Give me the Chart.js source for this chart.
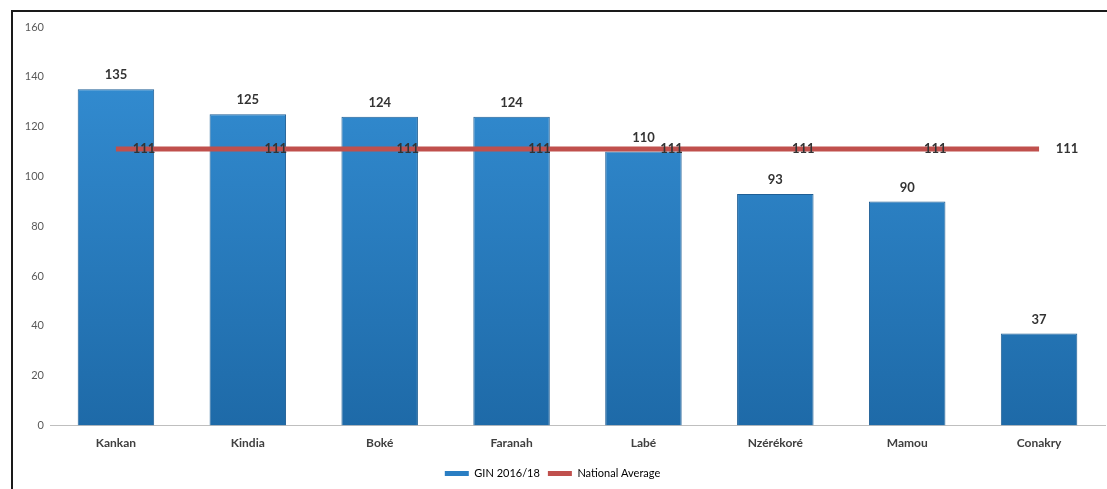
<!DOCTYPE html>
<html>
<head>
<meta charset="utf-8">
<script src="https://cdn.jsdelivr.net/npm/chart.js@4/dist/chart.umd.min.js"></script>
<style>
    body { margin: 0; background: #fff; }
    #frame {
        position: absolute;
        left: 11px;
        top: 10px;
        width: 1110px;
        height: 490px;
        border: 2px solid #1a1a1a;
        box-sizing: border-box;
    }
    #wrap { position: absolute; left: 0; top: 0; width: 1107px; height: 489px; }
</style>
</head>
<body>
<div id="frame"></div>
<div id="wrap"><canvas id="myChart" width="1107" height="489"></canvas></div>
<script>
// Chart data
const regions = ["Kankan", "Kindia", "Boké", "Faranah", "Labé", "Nzérékoré", "Mamou", "Conakry"];
const ginValues = [135, 125, 124, 124, 110, 93, 90, 37];
const nationalAverage = [111, 111, 111, 111, 111, 111, 111, 111];
const yTicks = [0, 20, 40, 60, 80, 100, 120, 140, 160];

const barBlue = "#2a7ec3";
const lineRed = "#c0504d";
const labelFont = "bold 13px Lato, 'Liberation Sans', sans-serif";

// Draw value labels over bars and next to line points
const valueLabels = {
    id: "valueLabels",
    afterDatasetsDraw(chart) {
        const ctx = chart.ctx;
        ctx.save();
        ctx.font = labelFont;
        ctx.fillStyle = "#333";
        ctx.textAlign = "center";
        ctx.textBaseline = "middle";

        chart.getDatasetMeta(0).data.forEach((bar, i) => {
            ctx.fillText(ginValues[i], bar.x, bar.y - 14);
        });

        chart.getDatasetMeta(1).data.forEach((pt, i) => {
            ctx.fillText(nationalAverage[i], pt.x + 28, pt.y);
        });
        ctx.restore();
    },
};

// Vertical gradient for the bars
function barGradient(context) {
    const area = context.chart.chartArea;
    if (!area) return barBlue;
    const g = context.chart.ctx.createLinearGradient(0, area.top, 0, area.bottom);
    g.addColorStop(0, "#3590d6");
    g.addColorStop(1, "#1e6aa8");
    return g;
}

const ctx = document.getElementById("myChart").getContext("2d");
new Chart(ctx, {
    type: "bar",
    data: {
        labels: regions,
        datasets: [
            {
                label: "GIN 2016/18",
                data: ginValues,
                backgroundColor: barGradient,
                borderColor: "#1f5f95",
                borderWidth: 1,
                categoryPercentage: 1,
                barPercentage: 0.58,
                order: 2,
            },
            {
                type: "line",
                label: "National Average",
                data: nationalAverage,
                borderColor: lineRed,
                backgroundColor: lineRed,
                borderWidth: 5,
                pointRadius: 0,
                order: 1,
            },
        ],
    },
    options: {
        responsive: false,
        animation: false,
        devicePixelRatio: 1,
        layout: { padding: { top: 27, right: 2, left: 0, bottom: 0 } },
        plugins: {
            tooltip: { enabled: false },
            legend: {
                position: "bottom",
                labels: {
                    boxWidth: 24,
                    boxHeight: 5,
                    padding: 8,
                    color: "#595959",
                    font: { size: 11, family: "Lato, 'Liberation Sans', sans-serif" },
                    generateLabels(chart) {
                        return chart.data.datasets.map((ds, i) => ({
                            text: ds.label,
                            fillStyle: i === 0 ? barBlue : lineRed,
                            strokeStyle: i === 0 ? "#1f5f95" : lineRed,
                            lineWidth: 0,
                            datasetIndex: i,
                        }));
                    },
                },
            },
        },
        scales: {
            x: {
                grid: { display: false, drawTicks: false },
                border: { display: true, color: "#bfbfbf", width: 1 },
                ticks: {
                    color: "#404040",
                    padding: 10,
                    font: { size: 12, weight: "bold", family: "Lato, 'Liberation Sans', sans-serif" },
                },
            },
            y: {
                min: 0,
                max: 160,
                afterFit(scale) { scale.width = 50; },
                afterBuildTicks(scale) { scale.ticks = yTicks.map((v) => ({ value: v })); },
                grid: { display: false, drawTicks: false },
                border: { display: false },
                ticks: {
                    color: "#595959",
                    padding: 6,
                    font: { size: 11, family: "Lato, 'Liberation Sans', sans-serif" },
                },
            },
        },
    },
    plugins: [valueLabels],
});
</script>
</body>
</html>
